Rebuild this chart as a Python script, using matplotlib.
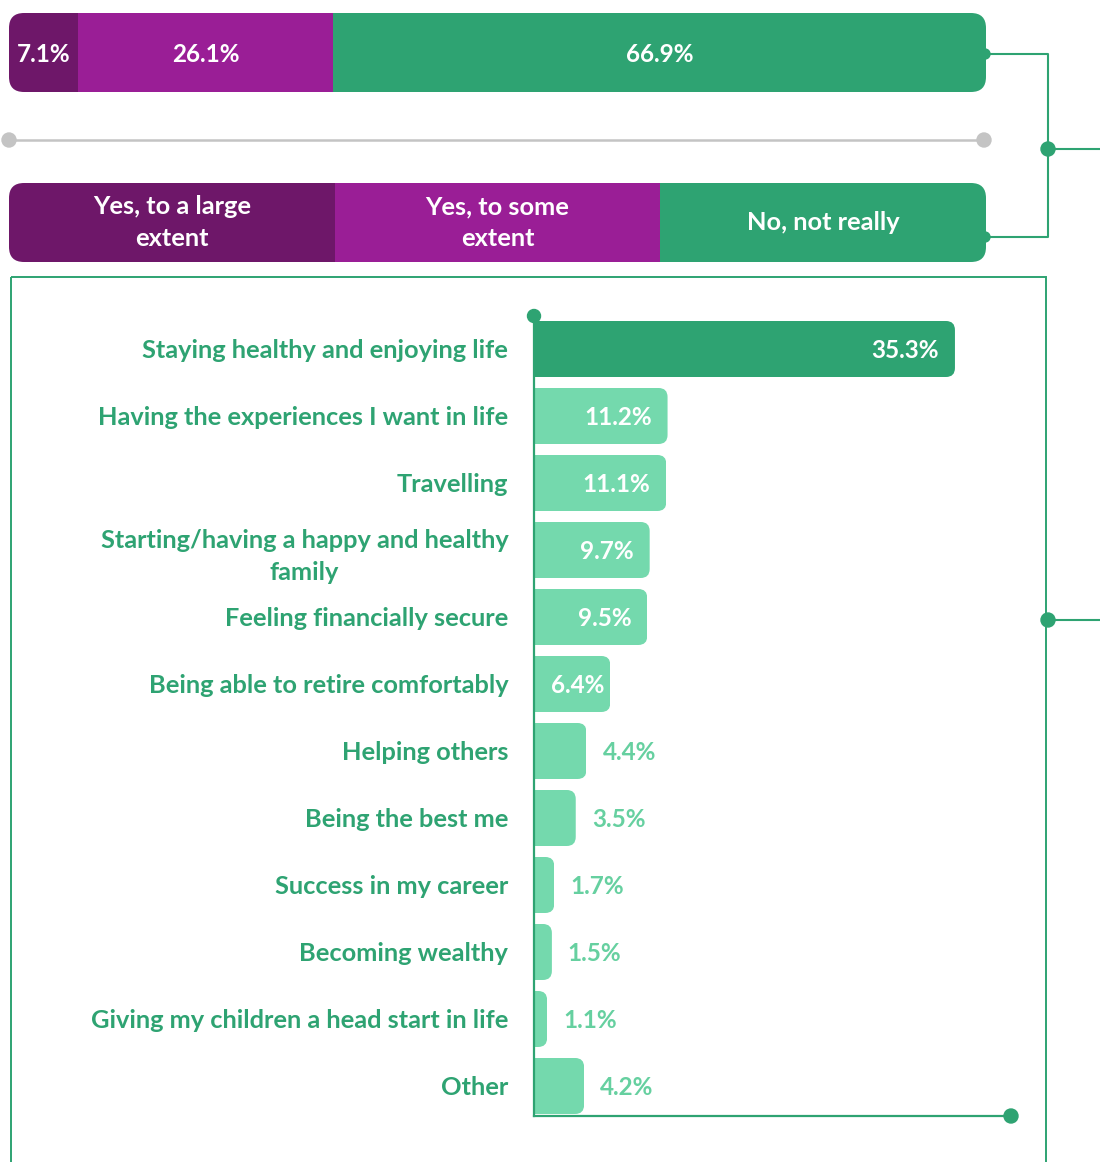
import matplotlib
matplotlib.use("Agg")
import matplotlib.pyplot as plt
from matplotlib.patches import FancyBboxPatch, Circle, Rectangle

plt.rcParams['font.family'] = ['Lato', 'DejaVu Sans']

# ---------------- data ----------------
overall_labels = ["Yes, to a large\nextent", "Yes, to some\nextent", "No, not really"]
overall_values = [7.1, 26.1, 66.9]

categories = [
    "Staying healthy and enjoying life",
    "Having the experiences I want in life",
    "Travelling",
    "Starting/having a happy and healthy\nfamily",
    "Feeling financially secure",
    "Being able to retire comfortably",
    "Helping others",
    "Being the best me",
    "Success in my career",
    "Becoming wealthy",
    "Giving my children a head start in life",
    "Other",
]
values = [35.3, 11.2, 11.1, 9.7, 9.5, 6.4, 4.4, 3.5, 1.7, 1.5, 1.1, 4.2]

# ---------------- style ----------------
DARK_PURPLE = "#6E1769"
PURPLE = "#9A1E96"
GREEN = "#2EA372"
LIGHT_GREEN = "#74D9AD"
OUT_LABEL = "#66D0A0"
GREY = "#C4C4C4"
overall_colors = [DARK_PURPLE, PURPLE, GREEN]

W, H = 1100, 1162
fig = plt.figure(figsize=(W / 100, H / 100), dpi=100)


def px_axes(x0, y0, x1, y1):
    return fig.add_axes([x0 / W, 1 - y1 / H, (x1 - x0) / W, (y1 - y0) / H])


def rounded_clip(ax, x0, y0, w, h, r_px):
    pos = ax.get_position()
    xl, yl = ax.get_xlim(), ax.get_ylim()
    dx = abs(xl[1] - xl[0]) / (pos.width * W)
    dy = abs(yl[1] - yl[0]) / (pos.height * H)
    return FancyBboxPatch((x0, y0), w, h,
                          boxstyle=f"round,pad=0,rounding_size={r_px * dx}",
                          mutation_aspect=dy / dx, transform=ax.transData,
                          facecolor="none", edgecolor="none")


# ---------------- top stacked bar ----------------
ax1 = px_axes(9, 13, 986, 92)
total = sum(overall_values)
ax1.set_xlim(0, total)
ax1.set_ylim(-0.5, 0.5)
ax1.set_axis_off()
clip1 = rounded_clip(ax1, 0, -0.5, total, 1.0, 15)
left = 0
for v, c in zip(overall_values, overall_colors):
    bars = ax1.barh(0, v, left=left, height=1.0, color=c, edgecolor="none")
    for b in bars:
        b.set_clip_path(clip1)
    ax1.text(left + v / 2, 0, f"{v:.1f}%", ha="center", va="center_baseline",
             color="white", fontsize=17.5, fontweight="bold")
    left += v

# ---------------- legend bar ----------------
ax2 = px_axes(9, 183, 986, 262)
n = len(overall_labels)
ax2.set_xlim(0, n)
ax2.set_ylim(-0.5, 0.5)
ax2.set_axis_off()
clip2 = rounded_clip(ax2, 0, -0.5, n, 1.0, 15)
for i, (lab, c) in enumerate(zip(overall_labels, overall_colors)):
    bars = ax2.barh(0, 1, left=i, height=1.0, color=c, edgecolor="none")
    for b in bars:
        b.set_clip_path(clip2)
    ax2.text(i + 0.5, 0, lab, ha="center", va="center", color="white",
             fontsize=18.3, fontweight="bold", linespacing=1.45,
             multialignment="center")

# ---------------- horizontal bar chart ----------------
ax3 = px_axes(534, 316, 1011, 1116)
ax3.set_xlim(0, 40)
ax3.set_ylim(11.448, -0.4925)
ax3.patch.set_visible(False)
for s in ["top", "right"]:
    ax3.spines[s].set_visible(False)
for s in ["left", "bottom"]:
    ax3.spines[s].set_color(GREEN)
    ax3.spines[s].set_linewidth(1.6)
ax3.set_xticks([])
ax3.set_yticks(range(len(categories)))
ax3.set_yticklabels(categories)
ax3.tick_params(axis="y", length=0, pad=18.5, labelcolor=GREEN, labelsize=18.3)
for lbl in ax3.get_yticklabels():
    lbl.set_fontweight("bold")
    lbl.set_multialignment("center")
    lbl.set_linespacing(1.45)

bar_h = 0.836
for i, v in enumerate(values):
    col = GREEN if i == 0 else LIGHT_GREEN
    bars = ax3.barh(i, v, height=bar_h, color=col, edgecolor="none", zorder=1)
    clip = rounded_clip(ax3, -3, i - bar_h / 2, v + 3, bar_h, 9)
    for b in bars:
        b.set_clip_path(clip)
    if v >= 6:
        off = -16 if v >= 8 else -6
        ax3.annotate(f"{v:.1f}%", (v, i), xytext=(off, 0),
                     textcoords="offset pixels", ha="right", va="center_baseline",
                     color="white", fontsize=17.5, fontweight="bold")
    else:
        ax3.annotate(f"{v:.1f}%", (v, i), xytext=(16, 0),
                     textcoords="offset pixels", ha="left", va="center_baseline",
                     color=OUT_LABEL, fontsize=17.5, fontweight="bold")

# ---------------- overlay decorations (pixel coords) ----------------
ov = fig.add_axes([0, 0, 1, 1])
ov.set_xlim(0, W)
ov.set_ylim(H, 0)
ov.set_axis_off()
ov.patch.set_visible(False)

# grey separator
ov.plot([9, 984], [140, 140], color=GREY, lw=1.8, solid_capstyle="butt")
for x in (9, 984):
    ov.add_patch(Circle((x, 140), 7, color=GREY))

# bracket connecting top bars
ov.plot([986, 1048, 1048, 986], [54, 54, 237, 237], color=GREEN, lw=1.5)
for y in (54, 237):
    ov.add_patch(Circle((985, y), 5, color=GREEN))
ov.plot([1048, 1100], [149, 149], color=GREEN, lw=1.5)
ov.add_patch(Circle((1048, 149), 7, color=GREEN))

# box around lower chart
ov.add_patch(Rectangle((11, 277), 1035, 900, facecolor="none",
                       edgecolor=GREEN, lw=1.4))
ov.plot([1048, 1100], [620, 620], color=GREEN, lw=1.5)
ov.add_patch(Circle((1048, 620), 7, color=GREEN))

# axis end dots
ov.add_patch(Circle((534, 316), 6.5, color=GREEN))
ov.add_patch(Circle((1011, 1116), 7, color=GREEN))

fig.savefig("out.png", dpi=100)
